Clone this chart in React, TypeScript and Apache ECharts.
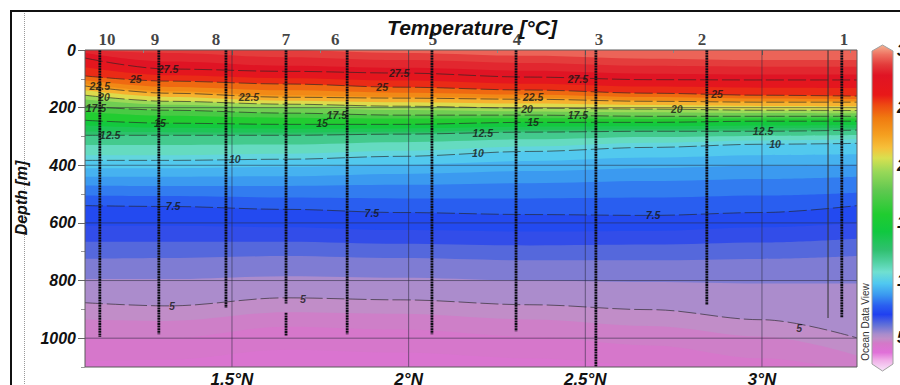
import React, { useEffect, useRef } from 'react';
import * as echarts from 'echarts';

// ---------- data ----------
// latitude nodes (°N) where isotherm depths were read
const nodeLat = [1.084, 1.319, 1.653, 1.976, 2.343, 2.683, 3.0, 3.269];

// isotherm levels (°C)
const isoLevels = [29, 28.5, 28, 27.5, 26.5, 25, 24, 23, 22.5, 21.5, 20, 19, 17.5, 16.5, 15, 14, 13, 12.5, 11.5, 10.5, 10, 9.5, 9, 8.5, 8, 7.5, 7, 6.5, 6, 5.5, 5, 4.75, 4.5, 4.25];

// isotherm depth (m) at each latitude node, one row per level
const isoDepths = [
  [0, 0, 0, 10, 20, 30, 35, 35],
  [0, 10, 25, 35, 45, 55, 58, 58],
  [10, 40, 55, 62, 72, 82, 85, 85],
  [28, 66, 74, 80, 94, 103, 104, 104],
  [60, 88, 98, 106, 117, 127, 131, 132],
  [90, 108, 118, 129, 139, 150, 157, 160],
  [105, 128, 140, 148, 155, 163, 168, 170],
  [118, 143, 157, 162, 166, 174, 177, 177],
  [125, 150, 164, 167, 171, 178, 181, 181],
  [140, 163, 176, 181, 186, 191, 194, 195],
  [157, 178, 188, 195, 202, 205, 209, 210],
  [172, 190, 200, 208, 213, 216, 219, 220],
  [195, 209, 219, 226, 226, 230, 230, 230],
  [215, 228, 235, 238, 237, 239, 238, 238],
  [244, 254, 258, 258, 251, 251, 247, 247],
  [262, 270, 273, 272, 266, 265, 262, 260],
  [283, 285, 287, 284, 277, 275, 272, 270],
  [296, 296, 296, 292, 285, 282, 282, 278],
  [330, 330, 328, 320, 310, 302, 298, 295],
  [365, 365, 360, 350, 335, 322, 314, 310],
  [383, 383, 379, 369, 352, 338, 327, 324],
  [410, 410, 405, 398, 385, 373, 365, 362],
  [440, 440, 438, 430, 420, 410, 402, 398],
  [470, 472, 472, 468, 462, 455, 448, 440],
  [505, 507, 512, 515, 515, 512, 505, 495],
  [540, 543, 553, 564, 571, 574, 564, 540],
  [610, 610, 615, 625, 630, 628, 615, 600],
  [665, 665, 665, 672, 678, 675, 668, 655],
  [725, 722, 715, 722, 730, 730, 725, 715],
  [795, 795, 785, 790, 800, 805, 810, 810],
  [877, 888, 860, 867, 884, 901, 936, 999],
  [935, 940, 910, 915, 935, 958, 995, 1060],
  [1000, 1000, 960, 970, 995, 1025, 1070, 1120],
  [1080, 1075, 1040, 1050, 1070, 1095, 1130, 1160],
];

// labelled contour levels
const contourLevels = [27.5, 25, 22.5, 20, 17.5, 15, 12.5, 10, 7.5, 5];

// contour labels
const labelText = ['27.5', '27.5', '27.5', '25', '25', '25', '22.5', '22.5', '22.5', '20', '20', '20', '17.5', '17.5', '17.5', '15', '15', '15', '12.5', '12.5', '12.5', '10', '10', '10', '7.5', '7.5', '7.5', '5', '5', '5'];
const labelLat = [1.319, 1.973, 2.479, 1.228, 1.925, 2.873, 1.126, 1.548, 2.352, 1.138, 2.335, 2.759, 1.115, 1.797, 2.479, 1.296, 1.755, 2.352, 1.155, 2.21, 3.003, 1.508, 2.196, 3.037, 1.333, 1.896, 2.692, 1.33, 1.701, 3.105];
const labelDepth = [66, 80, 101, 101, 129, 153, 126, 164, 164, 164, 205, 205, 202, 226, 226, 254, 254, 251, 296, 289, 282, 379, 358, 327, 543, 564, 574, 888, 863, 964];

// stations
const stationName = ['10', '9', '8', '7', '6', '5', '4', '3', '2', '1'];
const stationLat = [1.126, 1.293, 1.483, 1.653, 1.826, 2.066, 2.304, 2.53, 2.844, 3.226];
const stationBottom = [995, 986, 895, 880, 986, 986, 976, 1100, 885, 927];
const stationLabelLat = [1.146, 1.282, 1.455, 1.653, 1.792, 2.069, 2.307, 2.539, 2.83, 3.232];
const station7Lower = [912, 992];
const extraCastLat = [3.187];
const extraCastBottom = [930];

// axes
const xMin = 1.084;
const xMax = 3.269;
const xMajorTicks = [1.5, 2, 2.5, 3];
const xMinorTicks = [1.25, 1.75, 2.25, 2.75, 3.25];
const yMajorTicks = [0, 200, 400, 600, 800, 1000];
const yMinorTicks = [100, 300, 500, 700, 900, 1100];
const depthMax = 1100;

// colour scale
const cbTicks = [30, 25, 20, 15, 10, 5];
const cbMax = 30.435;
const cbMin = 2.087;
const cmapT = [30.4, 29.6, 28.7, 27.8, 26.1, 25.2, 24.1, 22.6, 21.5, 20.6, 19.4, 17.8, 15.7, 14.2, 12.6, 11.6, 10.7, 9.7, 8.7, 7.8, 7.0, 6.1, 5.3, 4.9, 4.5, 3.7, 3.0, 2.2];
const cmapColor = ['#f4b090', '#ee7060', '#e33a3a', '#e01424', '#e81818', '#ee4a12', '#f07a10', '#f5a020', '#f6c03a', '#d8e050', '#98d858', '#60c850', '#20cc30', '#10c840', '#30c070', '#50d0a0', '#70e0d0', '#50c8f0', '#3a98f0', '#2a60f0', '#2040f0', '#6070d8', '#a88ccc', '#c08ec8', '#d478c8', '#e070d8', '#f0b0e8', '#f8e0f8'];

// ---------- helpers ----------
function hexRgb(h: string) {
  const n = parseInt(h.slice(1), 16);
  return [(n >> 16) & 255, (n >> 8) & 255, n & 255];
}
function colorAt(t: number): string {
  if (t >= cmapT[0]) return cmapColor[0];
  for (let i = 0; i < cmapT.length - 1; i++) {
    if (t >= cmapT[i + 1]) {
      const f = (cmapT[i] - t) / (cmapT[i] - cmapT[i + 1]);
      const a = hexRgb(cmapColor[i]);
      const b = hexRgb(cmapColor[i + 1]);
      const c = a.map((v, k) => Math.round(v + (b[k] - v) * f));
      return `rgb(${c[0]},${c[1]},${c[2]})`;
    }
  }
  return cmapColor[cmapColor.length - 1];
}

const SANS = '"Liberation Sans", Arial, sans-serif';
const SERIF = '"Liberation Serif", "Times New Roman", serif';
const STATION_LABEL_DEPTH = -35;
const SMOOTH = 0.35;

export default function App() {
  const ref = useRef<HTMLDivElement>(null);
  useEffect(() => {
    const chart = echarts.init(ref.current!, undefined, { renderer: 'svg' });
    const series: any[] = [];

    // filled bands
    isoLevels.forEach((lev, i) => {
      const next = i < isoLevels.length - 1 ? isoLevels[i + 1] : lev - 0.3;
      series.push({
        type: 'line',
        data: nodeLat.map((la, j) => [la, isoDepths[i][j]]),
        smooth: SMOOTH,
        smoothMonotone: 'x',
        symbol: 'none',
        lineStyle: { width: 0 },
        areaStyle: { origin: 'end', color: colorAt((lev + next) / 2), opacity: 1 },
        z: 1,
        silent: true,
      });
    });

    // contour lines
    contourLevels.forEach((lev) => {
      const i = isoLevels.indexOf(lev);
      series.push({
        type: 'line',
        data: nodeLat.map((la, j) => [la, isoDepths[i][j]]),
        smooth: SMOOTH,
        smoothMonotone: 'x',
        symbol: 'none',
        lineStyle: { color: '#262626', width: 0.8, type: [18, 4], opacity: 0.8 },
        z: 3,
        silent: true,
      });
    });

    // grid lines
    xMajorTicks.forEach((v) => {
      series.push({
        type: 'line',
        data: [[v, 0], [v, depthMax]],
        symbol: 'none',
        lineStyle: { color: 'rgba(40,40,60,0.55)', width: 1 },
        z: 4,
        silent: true,
      });
    });
    yMajorTicks.filter((d) => d > 0).forEach((d) => {
      series.push({
        type: 'line',
        data: [[xMin, d], [xMax, d]],
        symbol: 'none',
        lineStyle: { color: 'rgba(40,40,60,0.55)', width: 1 },
        z: 4,
        silent: true,
      });
    });

    // station casts
    const castStyle = { color: '#0d0d14', width: 2.8, type: [2, 0.6] };
    stationLat.forEach((la, i) => {
      series.push({
        type: 'line',
        data: [[la, 0], [la, stationBottom[i]]],
        symbol: 'none',
        lineStyle: castStyle,
        z: 5,
        silent: true,
      });
    });
    series.push({
      type: 'line',
      data: [[stationLat[3], station7Lower[0]], [stationLat[3], station7Lower[1]]],
      symbol: 'none',
      lineStyle: castStyle,
      z: 5,
      silent: true,
    });
    extraCastLat.forEach((la, i) => {
      series.push({
        type: 'line',
        data: [[la, 0], [la, extraCastBottom[i]]],
        symbol: 'none',
        lineStyle: { color: '#333', width: 1 },
        z: 5,
        silent: true,
      });
    });

    // contour labels
    series.push({
      type: 'scatter',
      data: labelLat.map((la, i) => [la, labelDepth[i], labelText[i]]),
      symbol: 'circle',
      symbolSize: 1,
      itemStyle: { color: 'transparent' },
      label: {
        show: true,
        position: 'inside',
        formatter: (p: any) => p.value[2],
        fontFamily: SANS,
        fontSize: 10.5,
        fontWeight: 'bold',
        fontStyle: 'italic',
        color: '#151515',
      },
      z: 6,
      silent: true,
    });

    // station names
    series.push({
      type: 'scatter',
      data: stationLabelLat.map((la, i) => [la, STATION_LABEL_DEPTH, stationName[i]]),
      symbol: 'circle',
      symbolSize: 1,
      clip: false,
      itemStyle: { color: 'transparent' },
      label: {
        show: true,
        position: 'inside',
        formatter: (p: any) => p.value[2],
        fontFamily: SERIF,
        fontSize: 17,
        fontWeight: 'bold',
        color: '#111',
      },
      z: 6,
      silent: true,
    });

    const axisFont = { fontFamily: SANS, fontWeight: 'bold', fontStyle: 'italic', color: '#111' };

    const gradStops = cmapT.map((t, i) => ({
      offset: Math.min(1, Math.max(0, (cbMax - t) / (cbMax - cbMin))),
      color: cmapColor[i],
    }));

    const option: any = {
      animation: false,
      backgroundColor: '#ffffff',
      grid: [
        {
          left: 85, top: 50, width: 772, height: 317,
          show: true, backgroundColor: colorAt(29.4), borderWidth: 0,
          containLabel: false, outerBoundsMode: 'none',
        },
        {
          left: 872, top: 45, width: 21, height: 326, show: false,
          containLabel: false, outerBoundsMode: 'none',
        },
      ],
      xAxis: [
        {
          gridIndex: 0, type: 'value', min: xMin, max: xMax, position: 'bottom', z: 5,
          axisLine: { show: false },
          axisTick: { show: true, customValues: xMajorTicks, length: 5, lineStyle: { color: '#555' } },
          axisLabel: {
            show: true, customValues: xMajorTicks, margin: 4, fontSize: 17,
            formatter: (v: number) => `${v}°N`, ...axisFont,
          },
          splitLine: { show: false },
        },
        {
          gridIndex: 0, type: 'value', min: xMin, max: xMax, position: 'bottom', offset: 0, z: 5,
          axisLine: { show: false },
          axisTick: { show: true, customValues: xMinorTicks, length: 3, lineStyle: { color: '#888' } },
          axisLabel: { show: false },
          splitLine: { show: false },
        },
        { gridIndex: 1, type: 'value', min: 0, max: 1, show: false },
      ],
      yAxis: [
        {
          gridIndex: 0, type: 'value', min: 0, max: depthMax, inverse: true, position: 'left', z: 5,
          axisLine: { show: false },
          axisTick: { show: true, customValues: yMajorTicks, length: 7, lineStyle: { color: '#666' } },
          axisLabel: {
            show: true, customValues: yMajorTicks, margin: 9, fontSize: 16,
            formatter: (v: number) => String(v), ...axisFont,
          },
          splitLine: { show: false },
        },
        {
          gridIndex: 0, type: 'value', min: 0, max: depthMax, inverse: true, position: 'left', offset: 0, z: 5,
          axisLine: { show: false },
          axisTick: { show: true, customValues: yMinorTicks, length: 4, lineStyle: { color: '#999' } },
          axisLabel: { show: false },
          splitLine: { show: false },
        },
        {
          gridIndex: 1, type: 'value', min: cbMin, max: cbMax, position: 'right', z: 5,
          axisLine: { show: false },
          axisTick: { show: false },
          axisLabel: {
            show: true, customValues: cbTicks, margin: 4, fontSize: 16,
            formatter: (v: number) => String(v), ...axisFont,
          },
          splitLine: { show: false },
        },
      ],
      series,
      graphic: [
        {
          type: 'rect', z: 10, silent: true,
          shape: { x: 11, y: 11, width: 920, height: 420 },
          style: { fill: 'none', stroke: '#111', lineWidth: 2 },
        },
        {
          type: 'line', z: 10, silent: true,
          shape: { x1: 24.5, y1: 13, x2: 24.5, y2: 385 },
          style: { stroke: '#999', lineWidth: 1, lineDash: [1, 1] },
        },
        {
          type: 'rect', z: 10, silent: true,
          shape: { x: 85, y: 50, width: 772, height: 317 },
          style: { fill: 'none', stroke: '#5a5a5a', lineWidth: 1 },
        },
        {
          type: 'text', z: 10, silent: true, x: 472, y: 27,
          style: {
            text: 'Temperature [°C]', textAlign: 'center', textVerticalAlign: 'middle',
            fontFamily: SANS, fontSize: 21, fontWeight: 'bold', fontStyle: 'italic', fill: '#111',
          },
        },
        {
          type: 'text', z: 10, silent: true, x: 21, y: 198, rotation: Math.PI / 2,
          style: {
            text: 'Depth [m]', textAlign: 'center', textVerticalAlign: 'middle',
            fontFamily: SANS, fontSize: 16, fontWeight: 'bold', fontStyle: 'italic', fill: '#111',
          },
        },
        {
          type: 'polygon', z: 10, silent: true,
          shape: { points: [[872, 51], [882.5, 45], [893, 51], [893, 364], [882.5, 371], [872, 364]] },
          style: {
            fill: new echarts.graphic.LinearGradient(0, 0, 0, 1, gradStops),
            stroke: '#a0a0a0', lineWidth: 1,
          },
        },
        {
          type: 'text', z: 10, silent: true, x: 865, y: 322, rotation: Math.PI / 2,
          style: {
            text: 'Ocean Data View', textAlign: 'center', textVerticalAlign: 'middle',
            fontFamily: SANS, fontSize: 10, fill: '#333',
          },
        },
      ],
    };
    chart.setOption(option);
    return () => chart.dispose();
  }, []);
  return (
    <div
      ref={ref}
      style={{ position: 'absolute', left: 0, top: 0, width: 900, height: 385, background: '#fff', overflow: 'hidden' }}
    />
  );
}
